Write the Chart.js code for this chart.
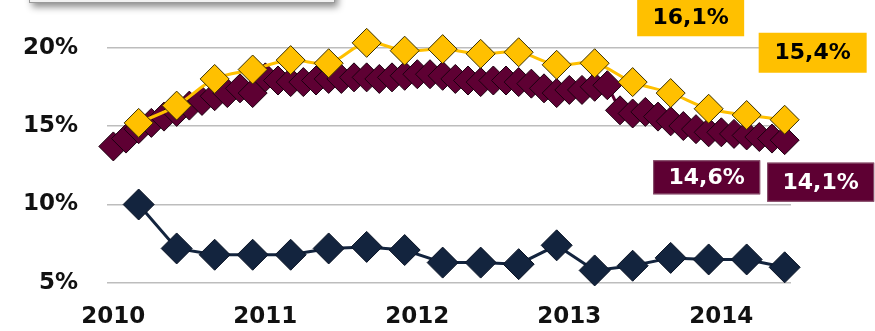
<!DOCTYPE html>
<html>
<head>
<meta charset="utf-8">
<script src="https://cdn.jsdelivr.net/npm/chart.js@4/dist/chart.umd.min.js"></script>
<style>
  html, body { margin: 0; padding: 0; background: #ffffff; }
  canvas { display: block; }
</style>
</head>
<body>
<canvas id="chart" width="875" height="331"></canvas>
<script>
// Axis categories
const years = ['2010', '2011', '2012', '2013', '2014'];
const monthNames = ['01', '02', '03', '04', '05', '06', '07', '08', '09', '10', '11', '12'];
const quarterEnds = ['03', '06', '09', '12'];
const yTicks = [5, 10, 15, 20];

// Monthly rate, Jan 2010 – Jun 2014 (%)
const monthlyRate = [
  13.7, 14.2, 14.8, 15.2, 15.6, 15.9, 16.3, 16.6, 16.9, 17.1, 17.4, 17.1,
  18.1, 17.9, 17.8, 17.8, 17.9, 18.0, 18.0, 18.1, 18.1, 18.0, 18.1, 18.2,
  18.3, 18.3, 18.2, 18.0, 17.9, 17.8, 17.9, 17.9, 17.8, 17.7, 17.4, 17.1,
  17.3, 17.3, 17.5, 17.6, 16.0, 15.8, 15.9, 15.6, 15.3, 15.0, 14.8, 14.6,
  14.6, 14.5, 14.4, 14.3, 14.2, 14.1
];

// Quarterly series, Q1 2010 – Q2 2014 (%)
const quarterlyHigh = [
  15.2, 16.3, 18.0, 18.6, 19.2, 19.0, 20.3, 19.8, 19.9,
  19.6, 19.7, 18.9, 19.0, 17.8, 17.1, 16.1, 15.7, 15.4
];
const quarterlyLow = [
  10.0, 7.2, 6.8, 6.8, 6.8, 7.2, 7.3, 7.1, 6.3,
  6.3, 6.2, 7.4, 5.8, 6.1, 6.6, 6.5, 6.5, 6.0
];

// Periods that carry a value box
const calloutPeriods = ['12.2013', '06.2014'];

const months = years.flatMap(y => monthNames.map(m => m + '.' + y)).slice(0, monthlyRate.length);
const quarters = years.flatMap(y => quarterEnds.map(m => m + '.' + y)).slice(0, quarterlyHigh.length);

const YELLOW = '#FFC000';
const MAROON = '#5E0033';
const NAVY = '#13243E';
const FONT = "'DejaVu Sans', Verdana, sans-serif";

// Value boxes: which dataset, which period, and where the box sits relative to its point
const calloutStyles = [
  { dataset: 0, period: calloutPeriods[0], dx: -18, dy: -91, w: 107, h: 37, fill: YELLOW, color: '#000000', border: null },
  { dataset: 0, period: calloutPeriods[1], dx: 28,  dy: -67, w: 108, h: 40, fill: YELLOW, color: '#000000', border: null },
  { dataset: 1, period: calloutPeriods[0], dx: -2,  dy: 45,  w: 107, h: 34, fill: MAROON, color: '#ffffff', border: '#8a5570' },
  { dataset: 1, period: calloutPeriods[1], dx: 36,  dy: 42,  w: 107, h: 39, fill: MAROON, color: '#ffffff', border: '#8a5570' }
];

const fmt = v => v.toFixed(1).replace('.', ',') + '%';

// Frame of the legend panel peeking in at the top edge
const legendFrame = {
  id: 'legendFrame',
  beforeDraw(chart) {
    const ctx = chart.ctx;
    ctx.save();
    ctx.fillStyle = '#ffffff';
    ctx.fillRect(0, 0, chart.width, chart.height);
    ctx.shadowColor = 'rgba(0,0,0,0.45)';
    ctx.shadowBlur = 7;
    ctx.shadowOffsetX = 3;
    ctx.shadowOffsetY = 4;
    ctx.fillStyle = '#f1f1f1';
    ctx.fillRect(29, -30, 306, 33);
    ctx.restore();
    ctx.save();
    ctx.strokeStyle = '#9a9a9a';
    ctx.lineWidth = 1;
    ctx.strokeRect(29.5, -30, 305, 32.5);
    ctx.restore();
  }
};

// Value boxes next to selected points
const valueBoxes = {
  id: 'valueBoxes',
  afterDatasetsDraw(chart) {
    const ctx = chart.ctx;
    calloutStyles.forEach(s => {
      const meta = chart.getDatasetMeta(s.dataset);
      const ds = chart.data.datasets[s.dataset];
      const idx = ds.data.findIndex((p, i) => (typeof p === 'object' ? p.x : chart.data.labels[i]) === s.period);
      if (idx < 0) return;
      const el = meta.data[idx];
      const raw = ds.data[idx];
      const value = typeof raw === 'object' ? raw.y : raw;
      const cx = el.x + s.dx;
      const cy = el.y + s.dy;
      ctx.save();
      ctx.fillStyle = s.fill;
      ctx.fillRect(cx - s.w / 2, cy - s.h / 2, s.w, s.h);
      if (s.border) {
        ctx.strokeStyle = s.border;
        ctx.lineWidth = 1;
        ctx.strokeRect(cx - s.w / 2 + 0.5, cy - s.h / 2 + 0.5, s.w - 1, s.h - 1);
      }
      ctx.fillStyle = s.color;
      ctx.font = 'bold 22px ' + FONT;
      ctx.textAlign = 'center';
      ctx.textBaseline = 'middle';
      ctx.fillText(fmt(value), cx, cy + 1);
      ctx.restore();
    });
  }
};

new Chart(document.getElementById('chart'), {
  type: 'line',
  data: {
    labels: months,
    datasets: [
      {
        data: quarters.map((q, i) => ({ x: q, y: quarterlyHigh[i] })),
        borderColor: YELLOW,
        borderWidth: 3,
        tension: 0.35,
        clip: false,
        pointStyle: 'rectRot',
        pointRadius: 14.5,
        pointBackgroundColor: YELLOW,
        pointBorderColor: '#3b3000',
        pointBorderWidth: 1
      },
      {
        data: monthlyRate,
        borderColor: MAROON,
        borderWidth: 3,
        tension: 0,
        clip: false,
        pointStyle: 'rectRot',
        pointRadius: 14.5,
        pointBackgroundColor: MAROON,
        pointBorderColor: '#1c0010',
        pointBorderWidth: 1
      },
      {
        data: quarters.map((q, i) => ({ x: q, y: quarterlyLow[i] })),
        borderColor: NAVY,
        borderWidth: 3,
        tension: 0,
        clip: false,
        pointStyle: 'rectRot',
        pointRadius: 15.5,
        pointBackgroundColor: NAVY,
        pointBorderColor: '#0a1426',
        pointBorderWidth: 1
      }
    ]
  },
  options: {
    responsive: false,
    devicePixelRatio: 1,
    animation: false,
    events: [],
    layout: { padding: { top: 24, right: 84, left: 0, bottom: 0 } },
    plugins: {
      legend: { display: false },
      tooltip: { enabled: false }
    },
    scales: {
      x: {
        type: 'category',
        offset: true,
        grid: { display: false, drawTicks: false },
        border: { display: false },
        ticks: {
          autoSkip: false,
          maxRotation: 0,
          padding: 20,
          color: '#111111',
          font: { family: FONT, size: 23, weight: 'bold' },
          callback: function (value) {
            const label = this.getLabelForValue(value);
            return label.startsWith('01.') ? label.slice(3) : null;
          }
        },
        afterFit: s => { s.height = 48; s.paddingLeft = 0; s.paddingRight = 0; }
      },
      y: {
        min: 5,
        max: 21.5,
        grid: { color: '#bdbdbd', lineWidth: 1.5, drawTicks: false },
        border: { display: false },
        ticks: {
          padding: 29,
          color: '#111111',
          font: { family: FONT, size: 23, weight: 'bold' },
          callback: v => v + '%'
        },
        afterBuildTicks: s => { s.ticks = yTicks.map(v => ({ value: v })); },
        afterFit: s => { s.width = 107; s.paddingTop = 0; s.paddingBottom = 0; }
      }
    }
  },
  plugins: [legendFrame, valueBoxes]
});
</script>
</body>
</html>
